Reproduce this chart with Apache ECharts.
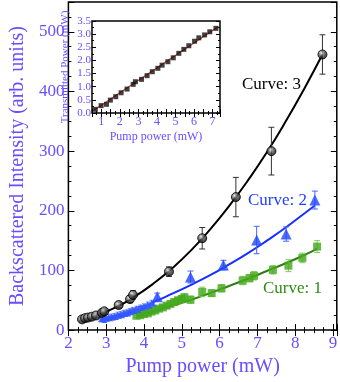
<!DOCTYPE html>
<html>
<head>
<meta charset="utf-8">
<script src="https://cdn.jsdelivr.net/npm/echarts@6/dist/echarts.min.js"></script>
<style>
  html, body { margin: 0; padding: 0; background: #fff; }
  #chart { width: 340px; height: 382px; }
</style>
</head>
<body>
<div id="chart"></div>
<script>
// curve 3 (black circles)
const c3X = [2.36, 2.44, 2.52, 2.62, 2.73, 2.89, 2.95, 3.33, 3.63, 3.71, 4.66, 5.54, 6.43, 7.37, 8.72]
const c3Y = [18, 20, 21, 22.5, 24.5, 29, 31.5, 42, 52, 59, 98, 154, 223, 300, 462]
const c3Err = [3, 3, 3, 3, 3, 4, 4, 5, 6, 7, 8, 18, 33, 40, 33]
const fit3X = [2.35, 2.75, 3.25, 3.75, 4.25, 4.75, 5.25, 5.75, 6.25, 6.75, 7.25, 7.75, 8.25, 8.72]
const fit3Y = [17, 25, 38, 56, 78, 104, 134, 169, 208, 251, 298, 350, 406, 462]

// curve 2 (blue triangles)
const c2X = [2.86, 2.9, 2.95, 2.98, 3.02, 3.06, 3.1, 3.14, 3.18, 3.22, 3.26, 3.3, 3.34, 3.38, 3.42, 3.46, 3.5, 3.54, 3.58,
  3.62, 3.66, 3.7, 3.75, 3.8, 3.85, 3.9, 3.95, 4.0, 4.05, 4.1, 4.15, 4.2, 4.25]
const c2Y = [18, 20, 17, 21, 19, 22, 20, 23, 21, 24, 22, 26, 24, 27, 25, 29, 27, 30, 28,
  32, 30, 34, 32, 36, 34, 38, 37, 40, 39, 43, 41, 46, 44]
const c2BigX = [4.35, 5.23, 6.1, 6.98, 7.76, 8.52]
const c2BigY = [56, 89, 109, 151, 161, 218]
const c2BigErr = [6, 10, 8, 23, 12, 15]
const fit2X = [2.85, 3.25, 3.75, 4.25, 4.75, 5.25, 5.75, 6.25, 6.75, 7.25, 7.75, 8.25, 8.52]
const fit2Y = [18, 25, 36, 47, 61, 76, 92, 110, 129, 150, 172, 196, 209]

// curve 1 (green squares)
const c1X = [3.8, 3.9, 4.0, 4.1, 4.2, 4.3, 4.4, 4.5, 4.6, 4.7, 4.8, 4.9, 5.0, 5.07, 5.23, 5.54, 5.79, 6.05, 6.61, 6.79,
  6.91, 7.41, 7.82, 8.19, 8.58]
const c1Y = [24, 25, 27, 28, 31, 33, 36, 38, 41, 44, 47, 50, 52, 55, 51, 64, 62, 70, 83, 87,
  91, 101, 108, 121, 140]
const c1Err = [3, 3, 3, 3, 3, 4, 4, 4, 5, 5, 5, 5, 6, 6, 6, 8, 5, 6, 7, 6,
  7, 7, 10, 8, 10]
const fit1X = [3.8, 4.25, 4.75, 5.25, 5.75, 6.25, 6.75, 7.25, 7.75, 8.25, 8.58]
const fit1Y = [24, 32, 41, 51, 62, 74, 86, 99, 112, 126, 136]

// inset: transmitted power
const insX = [0.68, 0.99, 1.28, 1.49, 1.78, 2.07, 2.39, 2.72, 2.84, 3.17, 3.47, 3.75, 4.05, 4.28, 4.59, 4.88, 5.18,
  5.45, 5.72, 6.03, 6.26, 6.57, 6.85, 7.18]
const insY = [0.14, 0.28, 0.33, 0.49, 0.62, 0.77, 0.91, 1.09, 1.19, 1.28, 1.42, 1.57, 1.70, 1.82, 1.95, 2.10, 2.27,
  2.42, 2.56, 2.73, 2.86, 2.97, 3.09, 3.22]
const insFitX = [0.6, 7.3]
const insFitY = [0.1, 3.28]

const violet = '#6a4dff'
const serif = 'Liberation Serif'

function zip(xs, ys, es) {
  return xs.map((x, i) => es ? [x, ys[i], es[i]] : [x, ys[i]])
}

// error bars drawn through the axis scale
function errBars(data, color, width) {
  return {
    type: 'custom',
    xAxisIndex: 0,
    yAxisIndex: 0,
    data: data,
    encode: { x: 0, y: 1 },
    z: 3,
    renderItem: (params, api) => {
      const x = api.value(0)
      const y = api.value(1)
      const e = api.value(2)
      const top = api.coord([x, y + e])
      const bot = api.coord([x, y - e])
      const hw = width
      const st = { stroke: color, lineWidth: 1 }
      return {
        type: 'group',
        children: [
          { type: 'line', shape: { x1: top[0], y1: top[1], x2: bot[0], y2: bot[1] }, style: st },
          { type: 'line', shape: { x1: top[0] - hw, y1: top[1], x2: top[0] + hw, y2: top[1] }, style: st },
          { type: 'line', shape: { x1: bot[0] - hw, y1: bot[1], x2: bot[0] + hw, y2: bot[1] }, style: st }
        ]
      }
    }
  }
}

const chart = echarts.init(document.getElementById('chart'))

const tickIn = (len) => ({ show: true, inside: true, length: len, lineStyle: { color: '#000', width: 1 } })
const minorIn = (n, len) => ({ show: true, splitNumber: n, length: len, lineStyle: { color: '#000', width: 1 } })
const intOnly = v => (Math.abs(v - Math.round(v)) < 1e-6 ? String(Math.round(v)) : '')

const option = {
  animation: false,
  backgroundColor: '#fff',
  grid: [
    { left: 49, top: 2, right: 3, bottom: 46, show: true, borderColor: '#000', borderWidth: 1.5, backgroundColor: 'transparent' },
    { left: 92, top: 21, width: 128, height: 92, show: true, borderColor: '#000', borderWidth: 1.5, backgroundColor: '#fff' }
  ],
  xAxis: [
    {
      gridIndex: 0, type: 'value', min: 2, max: 9.1, interval: 1, position: 'bottom',
      name: 'Pump power (mW)', nameLocation: 'middle', nameGap: 23,
      nameTextStyle: { color: violet, fontFamily: serif, fontSize: 20 },
      axisLine: { show: false }, axisTick: tickIn(6), minorTick: minorIn(4, 3),
      splitLine: { show: false },
      axisLabel: { color: violet, fontFamily: serif, fontSize: 17, margin: 5, showMaxLabel: false }
    },
    {
      gridIndex: 0, type: 'value', min: 2, max: 9.1, interval: 1, position: 'top',
      axisLine: { show: false }, axisTick: tickIn(6), minorTick: minorIn(4, 3),
      splitLine: { show: false }, axisLabel: { show: false }
    },
    {
      gridIndex: 1, type: 'value', min: 0.5, max: 7.4, interval: 0.5, position: 'bottom',
      name: 'Pump power (mW)', nameLocation: 'middle', nameGap: 18,
      nameTextStyle: { color: violet, fontFamily: serif, fontSize: 12 },
      axisLine: { show: false }, axisTick: tickIn(4), minorTick: minorIn(2, 2),
      splitLine: { show: false },
      axisLabel: {
        color: violet, fontFamily: serif, fontSize: 12, margin: 3,
        showMaxLabel: false, formatter: intOnly
      }
    },
    {
      gridIndex: 1, type: 'value', min: 0.5, max: 7.4, interval: 0.5, position: 'top',
      axisLine: { show: false }, axisTick: tickIn(4), minorTick: minorIn(2, 2),
      splitLine: { show: false }, axisLabel: { show: false }
    }
  ],
  yAxis: [
    {
      gridIndex: 0, type: 'value', min: 0, max: 550, interval: 100, position: 'left',
      name: 'Backscattered Intensity (arb. units)', nameLocation: 'middle', nameGap: 30,
      nameTextStyle: { color: violet, fontFamily: serif, fontSize: 20 },
      axisLine: { show: false }, axisTick: tickIn(6), minorTick: minorIn(4, 3),
      splitLine: { show: false },
      axisLabel: { color: violet, fontFamily: serif, fontSize: 17, margin: 4, showMaxLabel: false }
    },
    {
      gridIndex: 0, type: 'value', min: 0, max: 550, interval: 100, position: 'right',
      axisLine: { show: false }, axisTick: tickIn(6), minorTick: minorIn(4, 3),
      splitLine: { show: false }, axisLabel: { show: false }
    },
    {
      gridIndex: 1, type: 'value', min: 0, max: 3.5, interval: 0.5, position: 'left',
      name: 'Transmitted Power (mW)', nameLocation: 'middle', nameGap: 21,
      nameTextStyle: { color: violet, fontFamily: serif, fontSize: 11 },
      axisLine: { show: false }, axisTick: tickIn(4), minorTick: minorIn(2, 2),
      splitLine: { show: false },
      axisLabel: { color: violet, fontFamily: serif, fontSize: 11, margin: 1, formatter: v => v.toFixed(1) }
    },
    {
      gridIndex: 1, type: 'value', min: 0, max: 3.5, interval: 0.5, position: 'right',
      axisLine: { show: false }, axisTick: tickIn(4), minorTick: minorIn(2, 2),
      splitLine: { show: false }, axisLabel: { show: false }
    }
  ],
  graphic: [
    { type: 'text', left: 242, top: 76, style: { text: 'Curve: 3', fill: '#000', font: '17px "Liberation Serif"' } },
    { type: 'text', left: 248, top: 192, style: { text: 'Curve: 2', fill: '#1f3cff', font: '17px "Liberation Serif"' } },
    { type: 'text', left: 263, top: 280, style: { text: 'Curve: 1', fill: '#2e8c14', font: '17px "Liberation Serif"' } }
  ],
  series: [
    // fitted curves
    { type: 'line', xAxisIndex: 0, yAxisIndex: 0, data: zip(fit3X, fit3Y), smooth: true, showSymbol: false,
      lineStyle: { color: '#000', width: 2 }, z: 2 },
    { type: 'line', xAxisIndex: 0, yAxisIndex: 0, data: zip(fit2X, fit2Y), smooth: true, showSymbol: false,
      lineStyle: { color: '#1530ff', width: 2 }, z: 2 },
    { type: 'line', xAxisIndex: 0, yAxisIndex: 0, data: zip(fit1X, fit1Y), smooth: true, showSymbol: false,
      lineStyle: { color: '#2f7d12', width: 2 }, z: 2 },
    // error bars
    errBars(zip(c1X, c1Y, c1Err), '#7ccf55', 3),
    errBars(zip(c2X, c2Y, c2X.map(() => 4)), '#6f8cff', 2),
    errBars(zip(c2BigX, c2BigY, c2BigErr), '#4a64ff', 3),
    errBars(zip(c3X, c3Y, c3Err), '#333', 3),
    // markers
    { type: 'scatter', xAxisIndex: 0, yAxisIndex: 0, data: zip(c1X, c1Y), symbol: 'rect', symbolSize: 8,
      itemStyle: { color: '#43a81c' }, z: 4 },
    { type: 'scatter', xAxisIndex: 0, yAxisIndex: 0, data: zip(c2X, c2Y), symbol: 'triangle', symbolSize: 6,
      itemStyle: { color: '#3056ff' }, z: 4 },
    { type: 'scatter', xAxisIndex: 0, yAxisIndex: 0, data: zip(c2BigX, c2BigY), symbol: 'triangle', symbolSize: 11,
      itemStyle: { color: '#1f45ff' }, z: 4 },
    { type: 'scatter', xAxisIndex: 0, yAxisIndex: 0, data: zip(c3X, c3Y), symbol: 'circle', symbolSize: 9,
      itemStyle: {
        color: { type: 'radial', x: 0.4, y: 0.35, r: 0.6,
          colorStops: [{ offset: 0, color: '#e8e8e8' }, { offset: 0.5, color: '#555' }, { offset: 1, color: '#111' }] },
        borderColor: '#000', borderWidth: 1
      }, z: 4 },
    // inset
    { type: 'line', xAxisIndex: 2, yAxisIndex: 2, data: zip(insFitX, insFitY), showSymbol: false,
      lineStyle: { color: '#e83a2a', width: 1.2 }, z: 5 },
    { type: 'scatter', xAxisIndex: 2, yAxisIndex: 2, data: zip(insX, insY), symbol: 'rect', symbolSize: 5,
      itemStyle: { color: '#111' }, z: 6 }
  ]
}

chart.setOption(option)
</script>
</body>
</html>
